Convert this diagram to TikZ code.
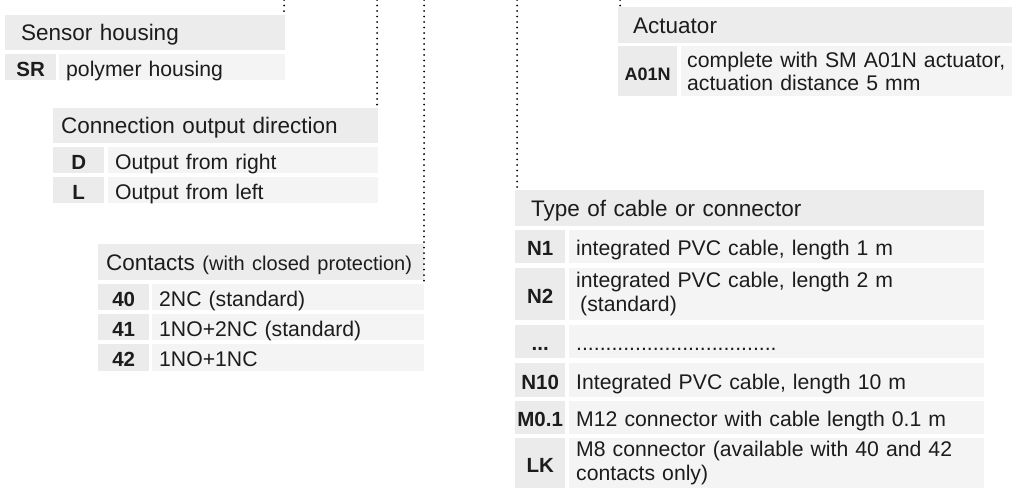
\documentclass[tikz,border=0pt]{standalone}
\usepackage{fontspec}
\setmainfont{Liberation Sans}
\usetikzlibrary{calc}

\definecolor{hdrgray}{HTML}{EBECEB}
\definecolor{codegray}{HTML}{EBEBEB}
\definecolor{descgray}{HTML}{F4F4F4}
\definecolor{inkgray}{HTML}{1C1C1C}

\newcommand\hdrfont{\fontsize{22.5pt}{26pt}\selectfont}
\newcommand\subfont{\fontsize{20pt}{22pt}\selectfont}
\newcommand\descfont{\fontsize{21.2pt}{23.5pt}\selectfont}
\newcommand\codefont{\fontsize{20.5pt}{23pt}\selectfont\bfseries}

\tikzset{
  hdr/.style={fill=hdrgray, text=inkgray, anchor=north west, inner ysep=0pt,
    align=left, font=\hdrfont, text height=16pt, text depth=-2pt},
  code/.style={fill=codegray, text=inkgray, anchor=north west, inner sep=0pt,
    font=\codefont, text height=18pt, text depth=0pt},
  desc/.style={fill=descgray, text=inkgray, anchor=north west, inner ysep=0pt,
    inner xsep=7pt, align=left, font=\descfont, text height=18pt, text depth=0pt},
  desctwo/.style={fill=descgray, text=inkgray, anchor=north west, inner ysep=0pt,
    inner xsep=7pt, align=left, font=\descfont},
  leader/.style={line width=2pt, dash pattern=on 0pt off 5.5pt, line cap=round, black}
}

\begin{document}
\begin{tikzpicture}[x=1pt, y=-1pt]
    \useasboundingbox (0,0) rectangle (1015,488);

    % sensor housing
    \node[hdr, minimum height=35pt, inner xsep=16pt, text width=248pt] (sensHdr) at (5,15) {Sensor housing};
    \node[code, minimum width=51pt, minimum height=26pt] (sensSR) at (5,54) {SR};
    \node[desc, minimum height=26pt, text width=212pt] (sensSRd) at (59,54) {polymer housing};

    % connection output direction
    \node[hdr, minimum height=35pt, inner xsep=8pt, text width=309pt] (connHdr) at (53,108) {Connection output direction};
    \node[code, minimum width=51pt, minimum height=26pt] (connD) at (53,147) {D};
    \node[desc, minimum height=26pt, text width=256pt] (connDd) at (108,147) {Output from right};
    \node[code, minimum width=51pt, minimum height=26pt] (connL) at (53,177) {L};
    \node[desc, minimum height=26pt, text width=256pt] (connLd) at (108,177) {Output from left};

    % contacts
    \node[hdr, minimum height=36pt, inner xsep=8pt, text width=310pt] (contHdr) at (98,244) {Contacts {\subfont (with closed protection)}};
    \node[code, minimum width=51pt, minimum height=26pt] (cont40) at (98,284) {40};
    \node[desc, minimum height=26pt, text width=258pt] (cont40d) at (152,284) {2NC (standard)};
    \node[code, minimum width=51pt, minimum height=26pt] (cont41) at (98,314) {41};
    \node[desc, minimum height=26pt, text width=258pt] (cont41d) at (152,314) {1NO+2NC (standard)};
    \node[code, minimum width=51pt, minimum height=27pt] (cont42) at (98,344) {42};
    \node[desc, minimum height=27pt, text width=258pt] (cont42d) at (152,344) {1NO+1NC};

    % actuator
    \node[hdr, minimum height=36pt, inner xsep=15pt, text width=364pt, text depth=-8pt] (actHdr) at (618,7) {Actuator};
    \node[code, minimum width=59pt, minimum height=50pt, font=\fontsize{18pt}{20pt}\selectfont\bfseries] (actA01N) at (618,46) {A01N};
    \node[desctwo, minimum height=50pt, inner xsep=6pt, text width=319pt] (actA01Nd) at (681,46) {complete with SM A01N actuator,\\actuation distance 5 mm};

    % type of cable or connector
    \node[hdr, minimum height=36pt, inner xsep=16pt, text width=437pt] (typeHdr) at (515,190) {Type of cable or connector};
    \node[code, minimum width=50pt, minimum height=33pt] (typeN1) at (515,230) {N1};
    \node[desc, minimum height=33pt, text width=401pt] (typeN1d) at (569,230) {integrated PVC cable, length 1 m};
    \node[code, minimum width=50pt, minimum height=52pt] (typeN2) at (515,268) {N2};
    \node[desctwo, minimum height=52pt, text width=401pt] (typeN2d) at (569,268) {integrated PVC cable, length 2 m\\\hspace*{4pt}(standard)};
    \node[code, minimum width=50pt, minimum height=33pt] (typeDots) at (515,325) {...};
    \node[desc, minimum height=33pt, text width=401pt] (typeDotsd) at (569,325) {..................................};
    \node[code, minimum width=50pt, minimum height=34pt] (typeN10) at (515,363) {N10};
    \node[desc, minimum height=34pt, text width=401pt] (typeN10d) at (569,363) {Integrated PVC cable, length 10 m};
    \node[code, minimum width=50pt, minimum height=33pt] (typeM01) at (515,401) {M0.1};
    \node[desc, minimum height=33pt, text width=401pt] (typeM01d) at (569,401) {M12 connector with cable length 0.1 m};
    \node[code, minimum width=50pt, minimum height=50pt] (typeLK) at (515,438) {LK};
    \node[desctwo, minimum height=50pt, text width=401pt] (typeLKd) at (569,438) {M8 connector (available with 40 and 42\\contacts only)};

    % leaders from the code string above
    \coordinate (topSens) at (284,0);
    \coordinate (topConn) at (377,0);
    \coordinate (topCont) at (424,0);
    \coordinate (topType) at (517,0);
    \coordinate (topAct) at (620,0);

    \draw[leader] (topSens) -- (topSens |- sensHdr.north);
    \draw[leader] (topConn) -- (topConn |- connHdr.north);
    \draw[leader] (topCont) -- (topCont |- cont40d.north);
    \draw[leader] (topType) -- (topType |- typeHdr.north);
    \draw[leader] (topAct) -- (topAct |- actHdr.north);
\end{tikzpicture}
\end{document}
